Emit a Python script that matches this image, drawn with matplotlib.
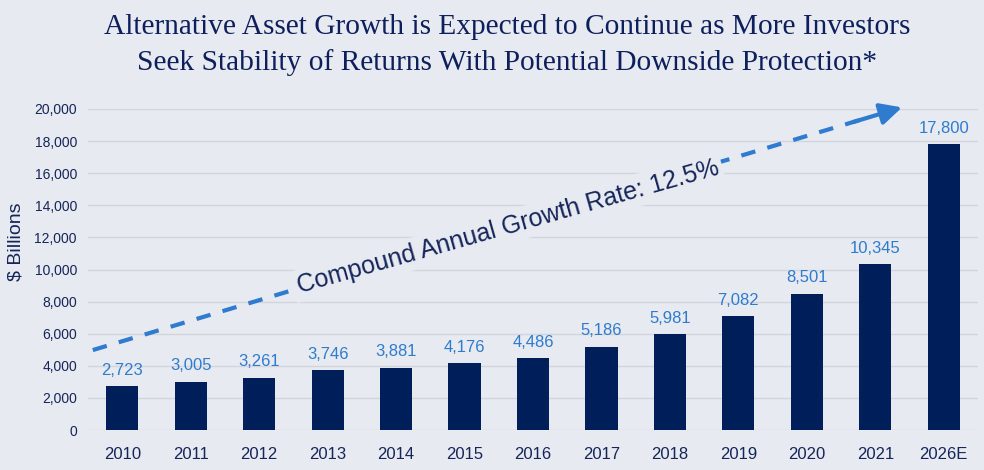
import numpy as np
import matplotlib
matplotlib.use("Agg")
import matplotlib.pyplot as plt

years = ["2010", "2011", "2012", "2013", "2014", "2015", "2016",
         "2017", "2018", "2019", "2020", "2021", "2026E"]
assets = [2723, 3005, 3261, 3746, 3881, 4176, 4486,
          5186, 5981, 7082, 8501, 10345, 17800]
yticks = [0, 2000, 4000, 6000, 8000, 10000, 12000, 14000, 16000, 18000, 20000]

bg = "#e7eaf0"
navy = "#001e5a"
blue = "#2e7bcf"
txt = "#15255a"

plt.rcParams['font.family'] = ['Liberation Sans', 'DejaVu Sans']

fig = plt.figure(figsize=(9.84, 4.70), dpi=100, facecolor=bg)
ax = fig.add_axes([88/984, 40/470, 890/984, 321/470], facecolor=bg)

x = np.arange(len(years))
bars = ax.bar(x, assets, width=0.47, color=navy, zorder=3)
ax.bar_label(bars, labels=[f"{v:,}" for v in assets], padding=6,
             color=blue, fontsize=12)

ax.set_xlim(-0.5, 12.5)
ax.set_ylim(0, 20000)
ax.set_yticks(yticks)
ax.set_yticklabels([f"{v:,}" for v in yticks])
ax.set_xticks(x)
ax.set_xticklabels(years)
ax.tick_params(axis='y', length=0, pad=8, labelsize=10, labelcolor=txt)
ax.tick_params(axis='x', length=0, pad=12, labelsize=12, labelcolor=txt)
ax.grid(axis='y', color="#d2d5db", lw=1, zorder=0)
for s in ax.spines.values():
    s.set_visible(False)
fig.text(16/984, 1 - 242/470, "\\$ Billions", fontsize=14, color=txt,
         rotation=90, ha='center', va='center')

# growth arrow
x0, y0 = -0.43, 4980
x1, y1 = 11.39, 20100
t = 0.955
ax.plot([x0, x0 + (x1 - x0)*t], [y0, y0 + (y1 - y0)*t], color=blue, lw=3,
        dashes=(3.5, 3), clip_on=False, zorder=4, solid_capstyle='butt',
        dash_capstyle='butt')
ax.annotate("", xy=(x1, y1), xytext=(x0 + (x1 - x0)*0.94, y0 + (y1 - y0)*0.94),
            arrowprops=dict(arrowstyle="-|>,head_length=1.3,head_width=0.65",
                            color=blue, lw=3, shrinkA=0, shrinkB=0),
            annotation_clip=False, zorder=4)

ax.text(5.63, 12650, "Compound Annual Growth Rate: 12.5%", fontsize=18,
        color=txt, rotation=15.8, ha='center', va='center',
        rotation_mode='anchor', zorder=5,
        bbox=dict(facecolor=bg, edgecolor='none', pad=3))

fig.text(507/984, 1 - 27/470, "Alternative Asset Growth is Expected to Continue as More Investors",
         ha='center', va='center', fontsize=21.2, color="#0d1f5c",
         family='Liberation Serif')
fig.text(507/984, 1 - 63/470, "Seek Stability of Returns With Potential Downside Protection*",
         ha='center', va='center', fontsize=21.2, color="#0d1f5c",
         family='Liberation Serif')

fig.savefig("out.png", dpi=100, facecolor=bg)
